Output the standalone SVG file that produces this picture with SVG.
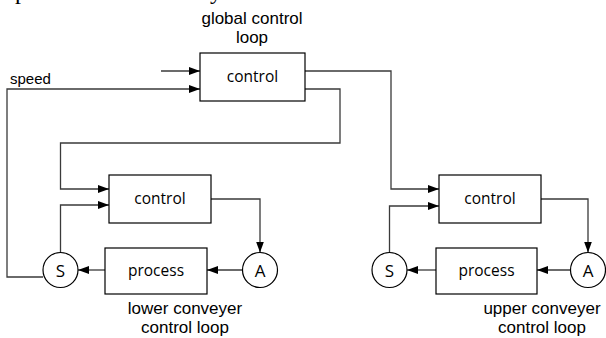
<svg xmlns="http://www.w3.org/2000/svg" width="606" height="338" viewBox="0 0 606 338">
  <style>
    .box { fill: #fff; stroke: #000; stroke-width: 1.2; }
    .circ { fill: #fff; stroke: #000; stroke-width: 1.2; }
    .wire { fill: none; stroke: #3a3a3a; stroke-width: 1.3; }
    .arr { marker-end: url(#head); }
    .in { font-family: "Open Sans", "Noto Sans", sans-serif; font-size: 15.5px; fill: #000; text-anchor: middle; }
    .sym { font-family: "Open Sans", "Noto Sans", sans-serif; font-size: 17px; fill: #000; text-anchor: middle; }
    .lbl { font-family: "Liberation Sans", Arial, sans-serif; font-size: 17px; fill: #000; text-anchor: middle; }
    .small { font-family: "Liberation Sans", Arial, sans-serif; font-size: 15px; fill: #000; }
    .cap { font-family: "Liberation Serif", "Times New Roman", serif; font-size: 24px; fill: #000; }
  </style>
  <defs>
    <marker id="head" markerUnits="userSpaceOnUse" markerWidth="11" markerHeight="8" refX="11" refY="4" orient="auto">
      <path d="M0,0 L11,4 L0,8 Z" fill="#000"/>
    </marker>
  </defs>

  <!-- descenders of the caption line above -->
  <text class="cap" x="15" y="-1">p</text>
  <text class="cap" x="210" y="-1">y</text>

  <g id="connectors">
    <path class="wire arr" d="M161,71 H200"/>
    <path class="wire arr" d="M43,277 H7 V89 H200"/>
    <path class="wire arr" d="M305,71 H391 V189 H439"/>
    <path class="wire arr" d="M305,89 H340 V143 H60.5 V189 H109"/>
    <path class="wire arr" d="M60.5,252.5 V205 H109"/>
    <path class="wire arr" d="M211,199 H260 V252.5"/>
    <path class="wire arr" d="M242.5,270 H207"/>
    <path class="wire arr" d="M105,270 H78"/>
    <path class="wire arr" d="M389.5,252.5 V206 H439"/>
    <path class="wire arr" d="M541,199 H588 V252.5"/>
    <path class="wire arr" d="M570.5,270 H537"/>
    <path class="wire arr" d="M436,270 H407"/>
  </g>

  <g id="global-control">
    <rect class="box" x="200" y="53" width="105" height="48"/>
    <text class="in" x="252.5" y="82">control</text>
  </g>
  <g id="global-label">
    <text class="lbl" x="252" y="24">global control</text>
    <text class="lbl" x="252" y="43">loop</text>
  </g>
  <g id="speed-label">
    <text class="small" x="10" y="84">speed</text>
  </g>

  <g id="lower-control">
    <rect class="box" x="109" y="175" width="102" height="48"/>
    <text class="in" x="160" y="204">control</text>
  </g>
  <g id="lower-process">
    <rect class="box" x="105" y="248" width="102" height="46"/>
    <text class="in" x="156" y="276">process</text>
  </g>
  <g id="lower-sensor">
    <circle class="circ" cx="60.5" cy="270" r="17.5"/>
    <text class="sym" x="60.5" y="276.5">S</text>
  </g>
  <g id="lower-actuator">
    <circle class="circ" cx="260" cy="270" r="17.5"/>
    <text class="sym" x="260" y="276.5">A</text>
  </g>
  <g id="lower-label">
    <text class="lbl" x="185" y="314">lower conveyer</text>
    <text class="lbl" x="185" y="333">control loop</text>
  </g>

  <g id="upper-control">
    <rect class="box" x="439" y="175" width="102" height="48"/>
    <text class="in" x="490" y="204">control</text>
  </g>
  <g id="upper-process">
    <rect class="box" x="436" y="248" width="101" height="46"/>
    <text class="in" x="486.5" y="276">process</text>
  </g>
  <g id="upper-sensor">
    <circle class="circ" cx="389.5" cy="270" r="17.5"/>
    <text class="sym" x="389.5" y="276.5">S</text>
  </g>
  <g id="upper-actuator">
    <circle class="circ" cx="588" cy="270" r="17.5"/>
    <text class="sym" x="588" y="276.5">A</text>
  </g>
  <g id="upper-label">
    <text class="lbl" x="542" y="314">upper conveyer</text>
    <text class="lbl" x="542" y="333">control loop</text>
  </g>
</svg>
